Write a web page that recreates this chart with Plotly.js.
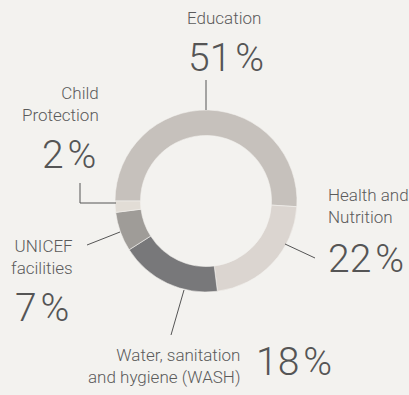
<!DOCTYPE html>
<html>
<head>
<meta charset="utf-8">
<script src="https://cdn.plot.ly/plotly-3.0.1.min.js"></script>
<style>
html,body{margin:0;padding:0;background:#f3f2ef;}
#chart{width:409px;height:395px;}
</style>
</head>
<body>
<div id="chart"></div>
<script>
const categories = ["Education", "Health and Nutrition", "Water, sanitation and hygiene (WASH)", "UNICEF facilities", "Child Protection"];
const values = [51, 22, 18, 7, 2];
const labelText = ["Education", "Health and<br>Nutrition", "Water, sanitation<br>and hygiene (WASH)", "UNICEF<br>facilities", "Child<br>Protection"];

const sliceColors = ["#c6c1bc", "#dbd5d0", "#78787a", "#9f9c98", "#e2ddd6"];
const W = 409, H = 395;
const px = x => x / W;
const py = y => 1 - y / H;

const labelFont = {family: "Roboto, sans-serif", size: 17, color: "#5b5b5b", weight: 300};
const pctFont = {family: "Roboto, sans-serif", size: 39, color: "#555555", weight: 300};

// label placement: [labelX, labelY, labelAnchor, pctX, pctY, pctAnchor]
const place = [
  [224, 18, "center", 226, 58, "center"],
  [326, 206, "left", 326, 259, "left"],
  [242, 366, "right", 254, 362, "left"],
  [75, 257, "right", 71, 308, "right"],
  [101, 104, "right", 98, 155, "right"]
];

const annotations = [];
values.forEach((v, i) => {
  const p = place[i];
  annotations.push({text: labelText[i], x: px(p[0]), y: py(p[1]), xref: "paper", yref: "paper",
    xanchor: p[2], yanchor: "middle", align: p[2] === "center" ? "center" : p[2], showarrow: false, font: labelFont});
  annotations.push({text: v + "\u200A%", x: px(p[3]), y: py(p[4]), xref: "paper", yref: "paper",
    xanchor: p[5], yanchor: "middle", showarrow: false, font: pctFont});
});

const lineStyle = {color: "#555555", width: 1};
const leaders = [
  [[206, 80], [206, 110]],
  [[285, 244], [315, 258]],
  [[171, 335], [184, 290]],
  [[87, 245], [120, 232]],
  [[80, 183], [80, 203], [116, 203]]
];
const shapes = [];
leaders.forEach(pts => {
  for (let k = 0; k < pts.length - 1; k++) {
    shapes.push({type: "line", xref: "paper", yref: "paper",
      x0: px(pts[k][0]), y0: py(pts[k][1]), x1: px(pts[k+1][0]), y1: py(pts[k+1][1]), line: lineStyle});
  }
});

const trace = {
  type: "pie",
  labels: categories,
  values: values,
  hole: 0.72,
  sort: false,
  direction: "clockwise",
  rotation: 270,
  textinfo: "none",
  hoverinfo: "label+percent",
  marker: {colors: sliceColors, line: {color: "#f3f2ef", width: 0.6}},
  domain: {x: [115 / W, 297 / W], y: [1 - 292 / H, 1 - 110 / H]},
  showlegend: false
};

Plotly.newPlot("chart", [trace], {
  width: W, height: H,
  margin: {l: 0, r: 0, t: 0, b: 0},
  paper_bgcolor: "#f3f2ef",
  plot_bgcolor: "#f3f2ef",
  showlegend: false,
  annotations: annotations,
  shapes: shapes
}, {displayModeBar: false, staticPlot: true});
</script>
</body>
</html>
